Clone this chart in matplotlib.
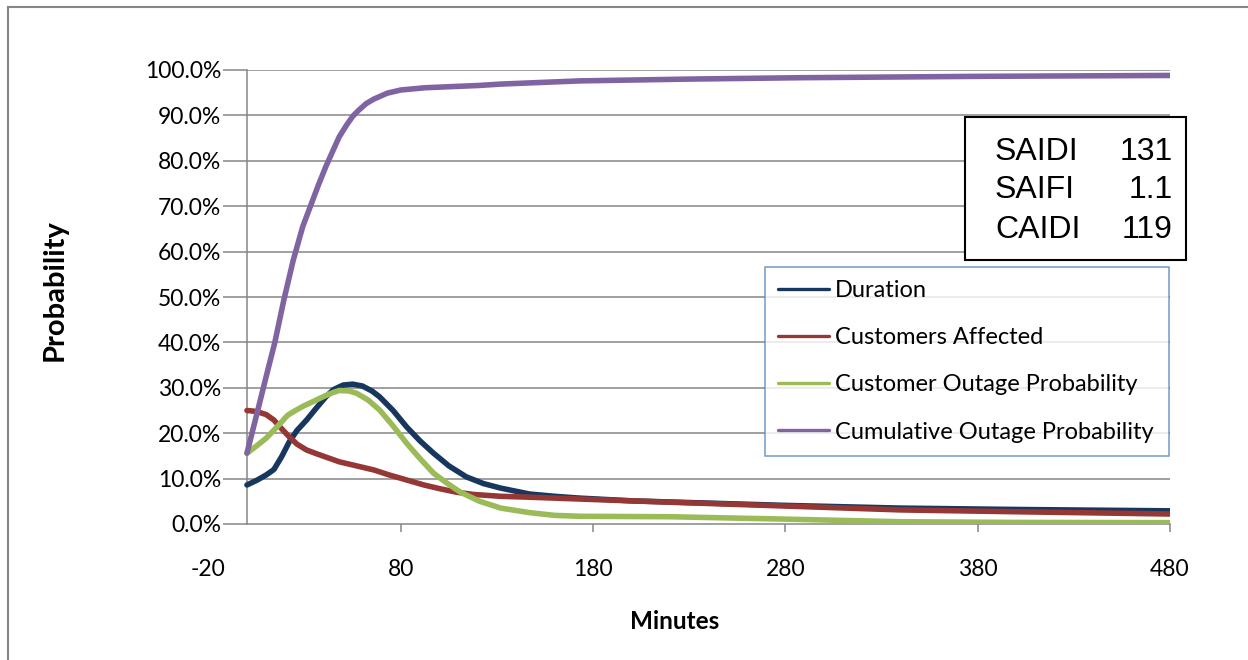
import numpy as np
import matplotlib
matplotlib.use("Agg")
import matplotlib.pyplot as plt
from matplotlib.ticker import PercentFormatter
from matplotlib.patches import Rectangle
from matplotlib.lines import Line2D

plt.rcParams['axes.unicode_minus'] = False
plt.rcParams['font.family'] = ['Lato', 'DejaVu Sans']

# ---- data (minutes, percent) ----
dur_x = [0, 5, 10, 14, 18, 22, 26, 31, 36, 41, 45, 50, 55, 60, 65, 69, 76, 83, 90, 97, 105, 114, 123, 132, 147, 160, 173, 200, 240, 280, 340, 400, 480]
dur_y = [8.6, 9.6, 10.8, 12.0, 14.8, 18.1, 20.6, 22.9, 25.5, 28.0, 29.6, 30.6, 30.8, 30.4, 29.3, 28.0, 25.0, 21.4, 18.3, 15.6, 12.8, 10.4, 8.9, 7.9, 6.6, 6.1, 5.7, 5.1, 4.6, 4.1, 3.5, 3.2, 2.9]

cust_x = [0, 5, 10, 14, 18, 22, 26, 31, 36, 40, 48, 57, 66, 74, 83, 92, 100, 109, 118, 132, 147, 173, 220, 277, 340, 400, 480]
cust_y = [25.0, 24.8, 24.1, 22.9, 21.0, 19.2, 17.6, 16.3, 15.5, 14.9, 13.7, 12.8, 11.9, 10.8, 9.7, 8.6, 7.8, 7.0, 6.5, 6.1, 5.9, 5.5, 4.8, 4.0, 3.1, 2.7, 2.2]

outp_x = [0, 5, 10, 17, 21, 24, 29, 34, 41, 45, 48, 53, 57, 63, 69, 76, 83, 90, 97, 104, 111, 121, 132, 147, 160, 173, 220, 277, 340, 400, 480]
outp_y = [15.6, 17.2, 18.9, 22.0, 23.9, 24.7, 25.9, 26.9, 28.3, 29.0, 29.4, 29.3, 28.8, 27.3, 25.1, 21.6, 17.8, 14.4, 11.2, 9.0, 7.0, 5.0, 3.5, 2.5, 1.9, 1.7, 1.6, 1.1, 0.5, 0.35, 0.3]

cum_x = [0, 5, 10, 14.5, 19, 24, 29, 33, 37, 41, 45, 48, 52, 55, 58, 62, 66, 73, 80, 93, 121, 132, 173, 230, 288, 380, 480]
cum_y = [15.6, 24.0, 32.5, 40.0, 49.0, 58.0, 65.5, 70.0, 74.5, 78.7, 82.5, 85.3, 88.0, 89.8, 91.1, 92.6, 93.6, 94.9, 95.6, 96.1, 96.6, 96.9, 97.6, 98.0, 98.3, 98.6, 98.8]

series_names = ["Duration", "Customers Affected", "Customer Outage Probability", "Cumulative Outage Probability"]
series_colors = ["#17375E", "#953735", "#9BBB59", "#8064A2"]

x_ticks = [-20, 80, 180, 280, 380, 480]
y_ticks = [0, 10, 20, 30, 40, 50, 60, 70, 80, 90, 100]

stat_names = ["SAIDI", "SAIFI", "CAIDI"]
stat_values = ["131", "1.1", "119"]

# ---- figure ----
W, H = 1248, 660
fig = plt.figure(figsize=(W / 100, H / 100), dpi=100)
fx = lambda x: x / W
fy = lambda y: 1 - y / H

GRID = "#868686"
ax = fig.add_axes([fx(208.5), fy(524), (1170 - 208.5) / W, (524 - 70) / H])
ax.set_xlim(-20, 480)
ax.set_ylim(0, 100)

# gridlines from x=0 to 480
ax.hlines(y_ticks[1:], 0, 480, colors=GRID, lw=1.1, zorder=1)

for xs, ys, name, c in zip([dur_x, cust_x, outp_x, cum_x], [dur_y, cust_y, outp_y, cum_y], series_names, series_colors):
    ax.plot(xs, ys, color=c, lw=4.0, label=name, solid_capstyle='round', solid_joinstyle='round', zorder=3)

for s in ['top', 'right']:
    ax.spines[s].set_visible(False)
ax.spines['left'].set_position(('data', 0))
ax.spines['left'].set_color(GRID)
ax.spines['left'].set_linewidth(1.1)
ax.spines['bottom'].set_bounds(0, 480)
ax.spines['bottom'].set_color(GRID)
ax.spines['bottom'].set_linewidth(1.1)

ax.set_yticks(y_ticks)
ax.yaxis.set_major_formatter(PercentFormatter(xmax=100, decimals=1))
ax.set_xticks(x_ticks)
ax.tick_params(axis='y', length=17, width=1.1, color=GRID, pad=1.5, labelsize=16.5, labelcolor='black')
ax.tick_params(axis='x', length=6, width=1.1, color=GRID, pad=19, labelsize=16.5, labelcolor='black')
ax.xaxis.get_major_ticks()[0].tick1line.set_visible(False)

ax.set_xlabel("Minutes", fontsize=17.5, fontweight='bold')
ax.xaxis.label.set_va('center')
ax.xaxis.set_label_coords((675 - 208.5) / 961.5, -(621.7 - 524) / 454)
ax.set_ylabel("Probability", fontsize=21, fontweight='bold')
ax.yaxis.label.set_va('center')
ax.yaxis.set_label_coords((55 - 208.5) / 961.5, (524 - 290) / 454)

leg = ax.legend(loc='upper left', bbox_to_anchor=(fx(765), fy(456), (1169 - 765) / W, (456 - 267) / H),
                bbox_transform=fig.transFigure, mode='expand', frameon=True, fancybox=False,
                edgecolor='#4F81BD', fontsize=17, handlelength=2.16, handletextpad=0.25,
                labelspacing=1.11, borderpad=0.55, borderaxespad=0)
leg.get_frame().set_linewidth(1.1)
for h in leg.legend_handles:
    h.set_linewidth(2.4)

# stats box
fig.add_artist(Rectangle((fx(965), fy(260)), (1186 - 965) / W, (260 - 117) / H, transform=fig.transFigure,
                         fill=True, facecolor='white', edgecolor='black', lw=1.5, zorder=5))
for i, (n, v) in enumerate(zip(stat_names, stat_values)):
    yc = [152, 190, 230][i]
    fig.text(fx(995), fy(yc), n, ha='left', va='center', family='Liberation Sans', fontsize=23, zorder=6)
    fig.text(fx(1173), fy(yc), v, ha='right', va='center', family='Liberation Sans', fontsize=23, zorder=6)

# outer chart frame (top and left)
fig.add_artist(Line2D([fx(8), 1.0], [fy(6.5), fy(6.5)], transform=fig.transFigure, color=GRID, lw=1.5))
fig.add_artist(Line2D([fx(8), fx(8)], [fy(6.5), 0.0], transform=fig.transFigure, color=GRID, lw=1.5))

fig.savefig("out.png", dpi=100)
